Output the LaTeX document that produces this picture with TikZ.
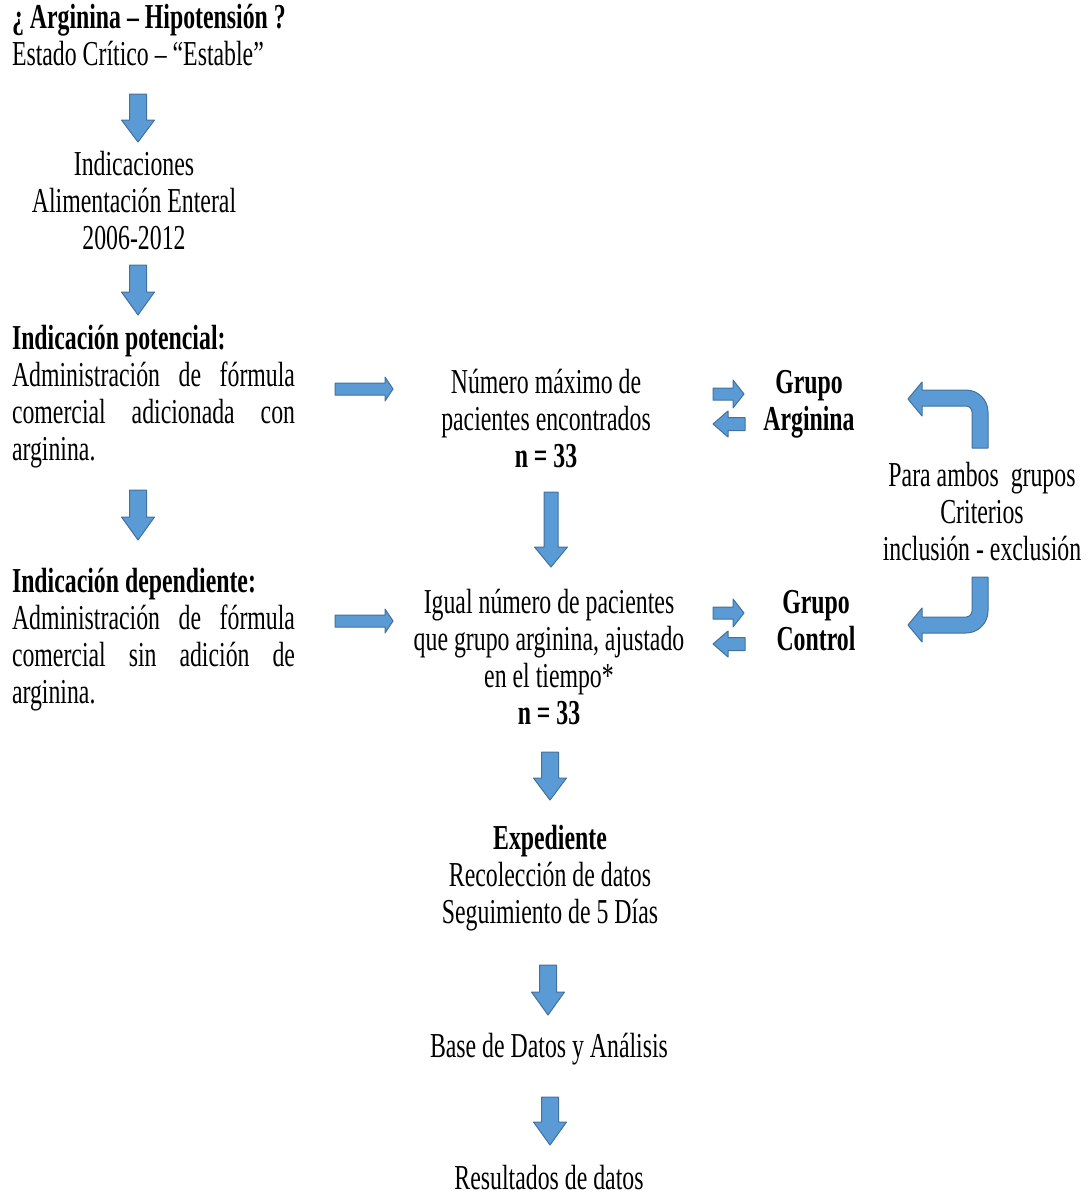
\documentclass[tikz,border=0pt]{standalone}
\usepackage{fontspec}
\setmainfont{Liberation Serif}[FakeStretch=0.68]
\begin{document}
\begin{tikzpicture}[x=1bp,y=-1bp]
\tikzset{
  txt/.style={font=\fontsize{35bp}{37bp}\selectfont, inner sep=0pt, outer sep=0pt},
  boldtxt/.style={txt, font=\fontsize{35bp}{37bp}\selectfont\bfseries},
  blockarrow/.style={fill=arrowfill, draw=arrowline, line width=1bp, line join=round},
}
\definecolor{arrowfill}{HTML}{5B9BD5}
\definecolor{arrowline}{HTML}{41719C}
% vertical block arrow: x, top, head back, tip, body half width, head half width
\newcommand\bluedown[6]{\filldraw[blockarrow] (#1-#5,#2) -- (#1+#5,#2) -- (#1+#5,#3) -- (#1+#6,#3) -- (#1,#4) -- (#1-#6,#3) -- (#1-#5,#3) -- cycle;}
% horizontal block arrow: y, tail, head back, tip, body half width, head half width
\newcommand\bluehoriz[6]{\filldraw[blockarrow] (#2,#1-#5) -- (#3,#1-#5) -- (#3,#1-#6) -- (#4,#1) -- (#3,#1+#6) -- (#3,#1+#5) -- (#2,#1+#5) -- cycle;}

\useasboundingbox (0,0) rectangle (1089,1195);

% ---- texts (each placed at the baseline of its last line) ----
\node[txt, anchor=base west, align=left] (title) at (12,65)
  {\textbf{¿ Arginina – Hipotensión ?}\\Estado Crítico – “Estable”};
\node[txt, anchor=base, align=center] (indic) at (134,249)
  {Indicaciones\\Alimentación Enteral\\2006-2012};
\node[txt, anchor=base west, align=left] (pot) at (12,460)
  {\textbf{Indicación potencial:}\\
   \makebox[283bp][s]{Administración de fórmula}\\
   \makebox[283bp][s]{comercial adicionada con}\\
   arginina.};
\node[txt, anchor=base west, align=left] (dep) at (12,703)
  {\textbf{Indicación dependiente:}\\
   \makebox[283bp][s]{Administración de fórmula}\\
   \makebox[283bp][s]{comercial sin adición de}\\
   arginina.};
\node[txt, anchor=base, align=center] (max) at (546,467)
  {Número máximo de\\pacientes encontrados\\\textbf{n = 33}};
\node[txt, anchor=base, align=center] (igual) at (549,724)
  {Igual número de pacientes\\que grupo arginina, ajustado\\en el tiempo*\\\textbf{n = 33}};
\node[boldtxt, anchor=base, align=center] (garg) at (809,430)
  {Grupo\\Arginina};
\node[boldtxt, anchor=base, align=center] (gcon) at (816,650)
  {Grupo\\Control};
\node[txt, anchor=base, align=center] (crit) at (982,560)
  {Para ambos\ \ grupos\\Criterios\\inclusión - exclusión};
\node[txt, anchor=base, align=center] (exp) at (550,923)
  {\textbf{Expediente}\\Recolección de datos\\Seguimiento de 5 Días};
\node[txt, anchor=base] (base) at (549,1057) {Base de Datos y Análisis};
\node[txt, anchor=base] (res) at (549,1189) {Resultados de datos};

% ---- block arrows ----
\bluedown{138}{94}{120}{142}{8.5}{16.5}
\bluedown{138}{265}{292}{315}{8.5}{16.5}
\bluedown{138}{490}{517}{540}{8.5}{16.5}
\bluedown{551}{492}{547}{567}{7}{16.5}
\bluedown{550}{752}{778}{800}{8.5}{16.5}
\bluedown{548}{965}{992}{1015}{8.5}{16.5}
\bluedown{550}{1097}{1122}{1145}{8.5}{16.5}

\bluehoriz{389}{335}{385}{393}{6}{12}
\bluehoriz{621}{335}{385}{393}{6}{12}

\bluehoriz{394}{713}{733}{744}{6}{14}
\bluehoriz{424}{745}{728}{713}{6.5}{13}
\bluehoriz{613}{713}{733}{744}{6}{14}
\bluehoriz{644}{745}{728}{713}{6.5}{13}

% ---- bent arrows towards the two groups ----
\filldraw[blockarrow] (972,448) -- (988,448) -- (988,412)
  .. controls (988,399.9) and (978.1,390) .. (966,390)
  -- (922,390) -- (922,382) -- (908,399) -- (922,416) -- (922,406) -- (966,406)
  .. controls (969.3,406) and (972,408.7) .. (972,412) -- cycle;
\filldraw[blockarrow] (972,577) -- (988,577) -- (988,611)
  .. controls (988,623.1) and (978.1,633) .. (966,633)
  -- (922,633) -- (922,642) -- (908,625) -- (922,608) -- (922,617) -- (966,617)
  .. controls (969.3,617) and (972,614.3) .. (972,611) -- cycle;
\end{tikzpicture}
\end{document}
